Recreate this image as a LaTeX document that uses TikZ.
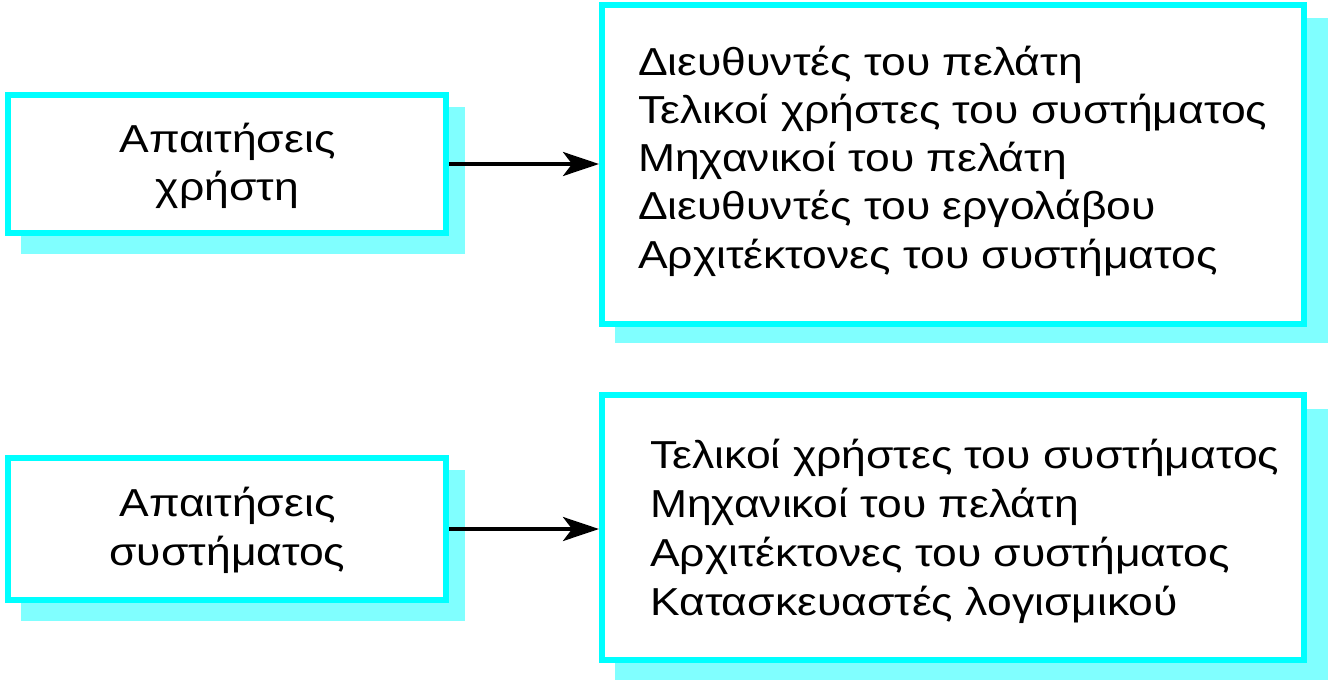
\documentclass[tikz,border=0pt]{standalone}
\usepackage{fontspec}
\setmainfont[FakeStretch=1.14]{Liberation Sans}
\usetikzlibrary{arrows.meta,backgrounds}
\definecolor{bordc}{HTML}{00FFFF}
\definecolor{shadc}{HTML}{80FFFF}
\tikzset{
  box/.style={draw=bordc, line width=6pt, fill=white, rectangle, inner sep=0pt},
  shad/.style={fill=shadc},
  txt/.style={inner sep=0pt, font=\fontsize{39}{48}\selectfont},
  listtext/.style={txt, anchor=base west},
  ctext/.style={txt, anchor=base},
  conn/.style={line width=3.5pt, -{Stealth[length=36pt,width=24pt,inset=9pt]}}
}
\begin{document}
\begin{tikzpicture}[x=1pt,y=-1pt]
\useasboundingbox (0,0) rectangle (1328,683);
% boxes
\node[box, minimum width=438pt, minimum height=138pt] (u) at (227,164) {};
\node[box, minimum width=438pt, minimum height=142pt] (s) at (227,529) {};
\node[box, minimum width=702pt, minimum height=319pt] (ru) at (953,164.5) {};
\node[box, minimum width=702pt, minimum height=265pt] (rs) at (953,527.5) {};
% shadows
\begin{pgfonlayer}{background}
\fill[shad] ([shift={(16,15)}]u.north west) rectangle ([shift={(16,18)}]u.south east);
\fill[shad] ([shift={(16,15)}]s.north west) rectangle ([shift={(16,18)}]s.south east);
\fill[shad] ([shift={(16,16)}]ru.north west) rectangle ([shift={(21,16)}]ru.south east);
\fill[shad] ([shift={(16,17)}]rs.north west) rectangle ([shift={(21,17)}]rs.south east);
\end{pgfonlayer}
% left texts
\node[ctext] (u1) at (227.5,152) {Απαιτήσεις};
\node[ctext] (u2) at (227.5,200) {χρήστη};
\node[ctext] (s1) at (227.5,516) {Απαιτήσεις};
\node[ctext] (s2) at (227.5,565) {συστήματος};
% right lists
\foreach \s [count=\i] in {Διευθυντές του πελάτη, Τελικοί χρήστες του συστήματος, Μηχανικοί του πελάτη, Διευθυντές του εργολάβου, Αρχιτέκτονες του συστήματος}
  \node[listtext] (a\i) at (638,{75+48.3*(\i-1)}) {\s};
\foreach \s [count=\i] in {Τελικοί χρήστες του συστήματος, Μηχανικοί του πελάτη, Αρχιτέκτονες του συστήματος, Κατασκευαστές λογισμικού}
  \node[listtext] (b\i) at (650,{468+49*(\i-1)}) {\s};
% connectors
\draw[conn] (u.east) -- (ru.west |- u.east);
\draw[conn] (s.east) -- (rs.west |- s.east);
\end{tikzpicture}
\end{document}
